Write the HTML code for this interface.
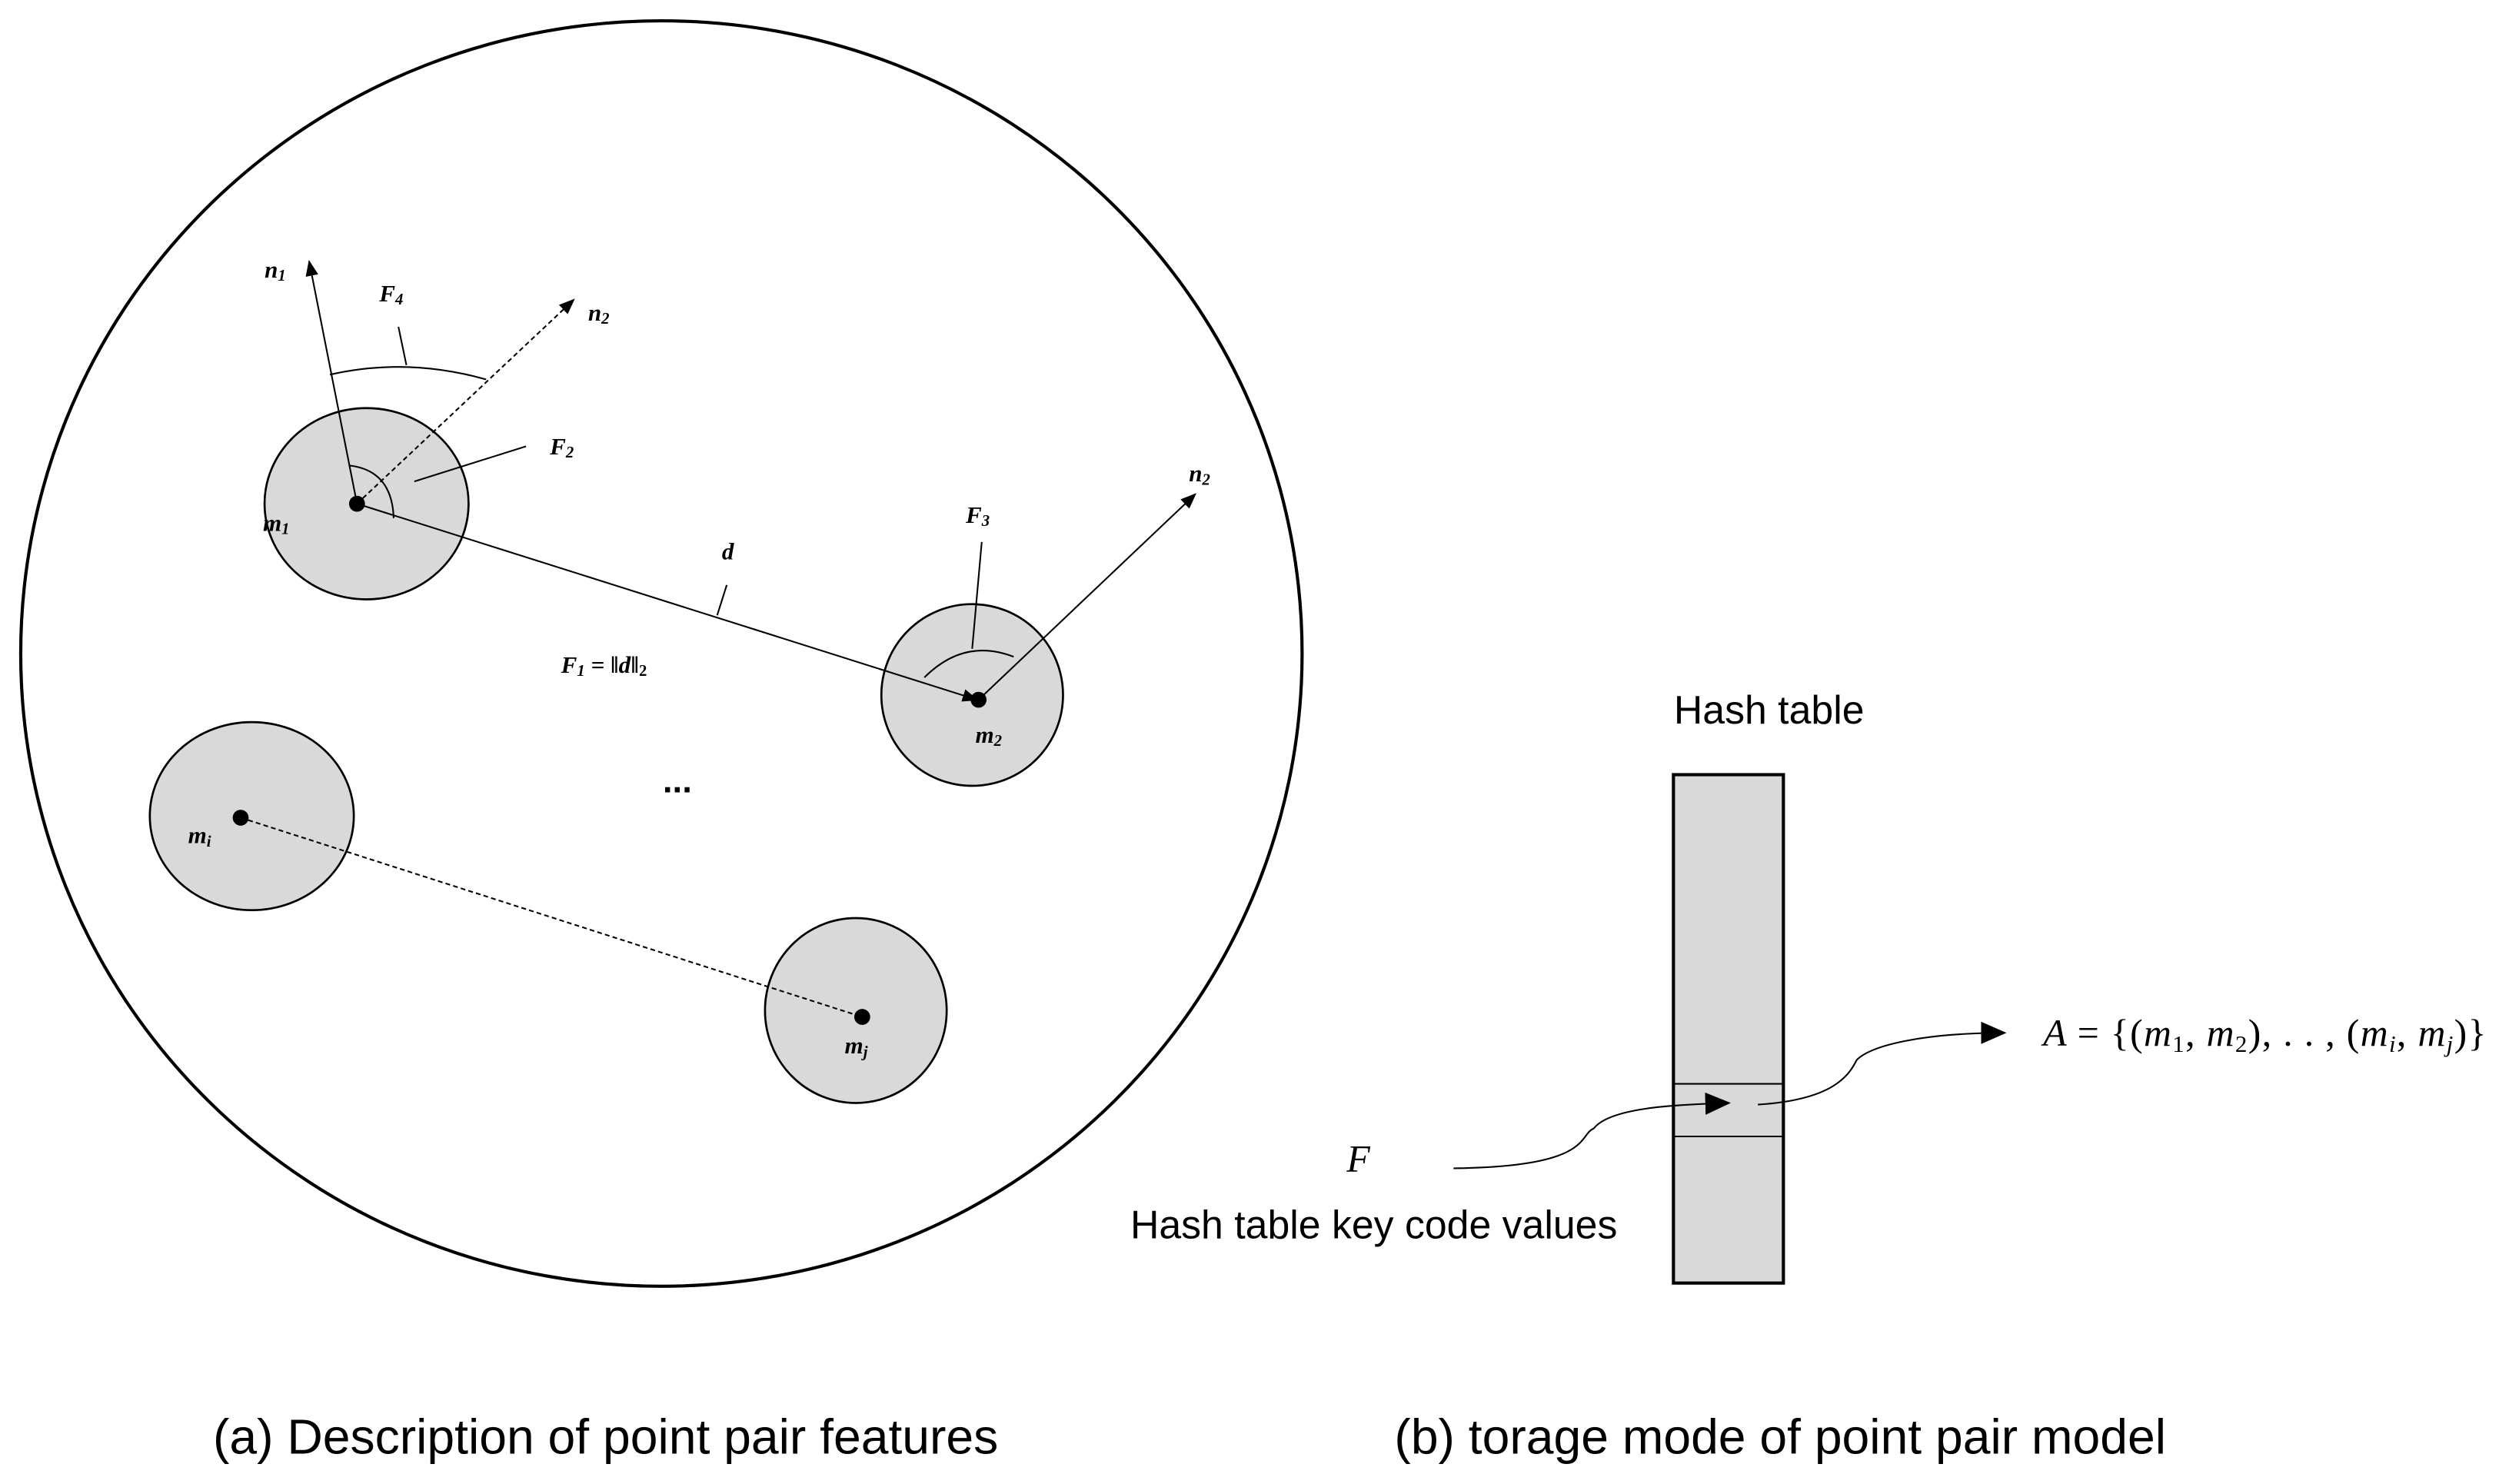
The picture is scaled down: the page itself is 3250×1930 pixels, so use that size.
<!DOCTYPE html>
<html><head><meta charset="utf-8"><style>
html,body{margin:0;padding:0;background:#fff}
svg{display:block}
.m{font-family:"Liberation Serif",serif;font-style:italic;font-weight:bold;font-size:15px}
.s{font-family:"Liberation Sans",sans-serif;font-size:25px}
.c{font-family:"Liberation Sans",sans-serif;font-size:31px}
</style></head><body>
<svg width="3250" height="1930" viewBox="0 0 1568 931" xmlns="http://www.w3.org/2000/svg">
<defs>
<marker id="a" markerWidth="10" markerHeight="8" refX="9" refY="4" orient="auto" markerUnits="userSpaceOnUse"><path d="M0,0 L10,4 L0,8 Z" fill="#000"/></marker>
<marker id="b" markerWidth="16" markerHeight="14" refX="15" refY="7" orient="auto" markerUnits="userSpaceOnUse"><path d="M0,0 L16,7 L0,14 Z" fill="#000"/></marker>
</defs>
<ellipse cx="415" cy="410" rx="402" ry="397" fill="none" stroke="#000" stroke-width="2"/>
<g fill="#d9d9d9" stroke="#000" stroke-width="1.3">
<ellipse cx="230" cy="316" rx="64" ry="60"/>
<ellipse cx="610" cy="436" rx="57" ry="57"/>
<ellipse cx="158" cy="512" rx="64" ry="59"/>
<ellipse cx="537" cy="634" rx="57" ry="58"/>
</g>
<g stroke="#000" stroke-width="1" fill="none">
<line x1="224" y1="316" x2="194" y2="164" marker-end="url(#a)"/>
<line x1="224" y1="316" x2="360" y2="188" stroke-dasharray="3,2" marker-end="url(#a)"/>
<path d="M207,235 Q255,224 305,238"/>
<line x1="255" y1="229" x2="250" y2="205"/>
<path d="M219,292 Q246,295 247,325"/>
<line x1="260" y1="302" x2="330" y2="280"/>
<line x1="224" y1="316" x2="613" y2="439" marker-end="url(#a)"/>
<line x1="450" y1="386" x2="456" y2="367"/>
<line x1="614" y1="439" x2="750" y2="310" marker-end="url(#a)"/>
<path d="M580,425 Q605,400 636,412"/>
<line x1="610" y1="407" x2="616" y2="340"/>
<line x1="151" y1="513" x2="541" y2="638" stroke-dasharray="3,2"/>
</g>
<g fill="#000">
<circle cx="224" cy="316" r="5"/><circle cx="614" cy="439" r="5"/>
<circle cx="151" cy="513" r="5"/><circle cx="541" cy="638" r="5"/>
</g>
<g class="m">
<text x="166" y="174">n<tspan font-size="10" dy="2">1</tspan></text>
<text x="238" y="189">F<tspan font-size="10" dy="2">4</tspan></text>
<text x="369" y="201">n<tspan font-size="10" dy="2">2</tspan></text>
<text x="345" y="285">F<tspan font-size="10" dy="2">2</tspan></text>
<text x="165" y="333">m<tspan font-size="10" dy="2">1</tspan></text>
<text x="746" y="302">n<tspan font-size="10" dy="2">2</tspan></text>
<text x="606" y="328">F<tspan font-size="10" dy="2">3</tspan></text>
<text x="453" y="351">d</text>
<text x="352" y="422">F<tspan font-size="10" dy="2">1</tspan><tspan dy="-2"> = ‖d‖</tspan><tspan font-size="10" dy="2" font-style="normal">2</tspan></text>
<text x="612" y="466">m<tspan font-size="10" dy="2">2</tspan></text>
<text x="118" y="529">m<tspan font-size="10" dy="2">i</tspan></text>
<text x="530" y="661">m<tspan font-size="10" dy="2">j</tspan></text>
</g>
<text x="425" y="497" font-family="Liberation Sans,sans-serif" font-weight="bold" font-size="22" text-anchor="middle">...</text>
<text x="1110" y="454" class="s" text-anchor="middle">Hash table</text>
<rect x="1050" y="486" width="69" height="319" fill="#d9d9d9" stroke="#000" stroke-width="2"/>
<line x1="1050" y1="680" x2="1119" y2="680" stroke="#000" stroke-width="1"/>
<line x1="1050" y1="713" x2="1119" y2="713" stroke="#000" stroke-width="1"/>
<path d="M912,733 C1000,732 990,712 1000,708 C1010,695 1050,693 1085,692" fill="none" stroke="#000" stroke-width="1" marker-end="url(#b)"/>
<path d="M1103,693 C1150,690 1160,675 1165,665 C1175,655 1210,648 1258,648" fill="none" stroke="#000" stroke-width="1" marker-end="url(#b)"/>
<text x="845" y="735" font-family="Liberation Serif,serif" font-style="italic" font-size="24">F</text>
<text x="862" y="777" class="s" text-anchor="middle">Hash table key code values</text>
<text x="1282" y="656" font-family="Liberation Serif,serif" font-style="italic" font-size="24" textLength="278" lengthAdjust="spacing">A <tspan font-style="normal">= {(</tspan>m<tspan font-size="15" dy="4" font-style="normal">1</tspan><tspan dy="-4" font-style="normal">, </tspan>m<tspan font-size="15" dy="4" font-style="normal">2</tspan><tspan dy="-4" font-style="normal">), . . , (</tspan>m<tspan font-size="15" dy="4">i</tspan><tspan dy="-4" font-style="normal">, </tspan>m<tspan font-size="15" dy="4">j</tspan><tspan dy="-4" font-style="normal">)}</tspan></text>
<text x="380" y="912" class="c" text-anchor="middle">(a) Description of point pair features</text>
<text x="1117" y="912" class="c" text-anchor="middle">(b) torage mode of point pair model</text>
</svg>
</body></html>
